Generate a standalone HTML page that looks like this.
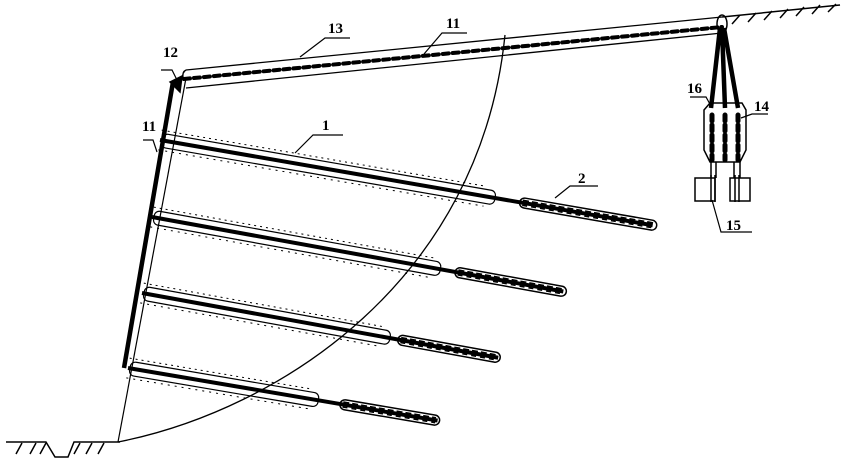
<!DOCTYPE html>
<html><head><meta charset="utf-8"><style>
html,body{margin:0;padding:0;background:#fff;}
svg{display:block;}
text{font-family:"Liberation Serif",serif;font-weight:bold;font-size:15px;fill:#000;}
</style></head><body>
<svg width="845" height="465" viewBox="0 0 845 465" xmlns="http://www.w3.org/2000/svg">
<g stroke="#000" fill="none" stroke-width="1.5">
<path d="M6,442 H46 L55,457 H68 L74,442 H120"/>
<path d="M16,454 L22,443 M30,454 L36,443 M40,454 L46,443 M74,454 L80,443 M86,454 L92,443 M98,454 L104,443"/>
<path d="M722,17 L840,5"/>
<path d="M732,24 L740,15 M748,22 L756,13 M764,20 L772,11 M780,18 L788,9 M796,16 L804,7 M812,14 L820,5 M828,12 L836,4"/>
<path d="M118,442 L186,78" stroke-width="1.2"/>
<path d="M118,442 C280,410 480,280 505,35" stroke-width="1.3"/>
<path d="M124,368 L173,82" stroke-width="4.5"/>
<path d="M186,70 L722,17" stroke-width="1.3"/>
<path d="M186,88 L722,33" stroke-width="1.3"/>
<path d="M186,70 Q182,72 183,78"/>
<path d="M184,79 L722,27" stroke-width="4" stroke-dasharray="6,4" stroke-linecap="round"/>
<path d="M170,82 L182,76 L180,92 Z" fill="#000"/>
</g>
<g stroke="#000" fill="none">
<g transform="translate(160,140) rotate(9.82)">
<line x1="0" y1="0" x2="500" y2="0" stroke-width="4"/>
<rect x="2" y="-7" width="338" height="14" rx="5" stroke-width="1.2"/>
<rect x="365" y="-5" width="139" height="10" rx="5" stroke-width="1.5"/>
<line x1="368" y1="-2.5" x2="500" y2="-2.5" stroke-width="1.5" stroke-dasharray="6,3"/>
<line x1="368" y1="2.5" x2="500" y2="2.5" stroke-width="1.5" stroke-dasharray="5,4"/>
<line x1="0" y1="-10" x2="330" y2="-10" stroke-width="1" stroke-dasharray="2,4"/>
<line x1="0" y1="10" x2="330" y2="10" stroke-width="1" stroke-dasharray="2,5"/>
</g>
<g transform="translate(152,217) rotate(10.27)">
<line x1="0" y1="0" x2="418" y2="0" stroke-width="4"/>
<rect x="2" y="-7" width="291" height="14" rx="5" stroke-width="1.2"/>
<rect x="308" y="-5" width="113" height="10" rx="5" stroke-width="1.5"/>
<line x1="311" y1="-2.5" x2="417" y2="-2.5" stroke-width="1.5" stroke-dasharray="6,3"/>
<line x1="311" y1="2.5" x2="417" y2="2.5" stroke-width="1.5" stroke-dasharray="5,4"/>
<line x1="0" y1="-10" x2="285" y2="-10" stroke-width="1" stroke-dasharray="2,4"/>
<line x1="0" y1="10" x2="285" y2="10" stroke-width="1" stroke-dasharray="2,5"/>
</g>
<g transform="translate(142,293) rotate(10.3)">
<line x1="0" y1="0" x2="362" y2="0" stroke-width="4"/>
<rect x="2" y="-7" width="250" height="14" rx="5" stroke-width="1.2"/>
<rect x="260" y="-5" width="104" height="10" rx="5" stroke-width="1.5"/>
<line x1="263" y1="-2.5" x2="360" y2="-2.5" stroke-width="1.5" stroke-dasharray="6,3"/>
<line x1="263" y1="2.5" x2="360" y2="2.5" stroke-width="1.5" stroke-dasharray="5,4"/>
<line x1="0" y1="-10" x2="245" y2="-10" stroke-width="1" stroke-dasharray="2,4"/>
<line x1="0" y1="10" x2="245" y2="10" stroke-width="1" stroke-dasharray="2,5"/>
</g>
<g transform="translate(128,368) rotate(9.64)">
<line x1="0" y1="0" x2="314" y2="0" stroke-width="4"/>
<rect x="2" y="-7" width="191" height="14" rx="5" stroke-width="1.2"/>
<rect x="215" y="-5" width="101" height="10" rx="5" stroke-width="1.5"/>
<line x1="218" y1="-2.5" x2="312" y2="-2.5" stroke-width="1.5" stroke-dasharray="6,3"/>
<line x1="218" y1="2.5" x2="312" y2="2.5" stroke-width="1.5" stroke-dasharray="5,4"/>
<line x1="0" y1="-10" x2="185" y2="-10" stroke-width="1" stroke-dasharray="2,4"/>
<line x1="0" y1="10" x2="185" y2="10" stroke-width="1" stroke-dasharray="2,5"/>
</g>
</g>
<g stroke="#000" fill="none" stroke-width="1.5">
<ellipse cx="722" cy="24" rx="5" ry="9"/>
<path d="M720,28 L711,108 M722,28 L725,108 M724,28 L738,108" stroke-width="4.5"/>
<path d="M704,110 L710,103 H742 L746,110 V150 L740,162 H710 L704,150 Z"/>
<path d="M712,115 V160 M725,115 V160 M738,115 V160" stroke-width="5" stroke-dasharray="6,4" stroke-linecap="round"/>
<path d="M711,162 V178 M716,162 V178 M734,162 V178 M740,162 V178"/>
<rect x="695" y="178" width="20" height="23"/>
<rect x="730" y="178" width="20" height="23"/>
<path d="M711,175 V202 M715,175 V202 M735,175 V202 M739,175 V202"/>
</g>
<g stroke="#000" fill="none" stroke-width="1.2">
<path d="M300,57 L325,38 H350"/>
<path d="M424,54 L442,33 H467"/>
<path d="M161,70 H172 L178,82"/>
<path d="M143,140 H153 L157,152"/>
<path d="M295,153 L313,135 H343"/>
<path d="M555,198 L570,186 H598"/>
<path d="M690,97 H706 L711,106"/>
<path d="M741,118 L752,114 H768"/>
<path d="M712,200 L721,232 H752"/>
</g>
<text x="328" y="33">13</text>
<text x="446" y="28">11</text>
<text x="163" y="57">12</text>
<text x="142" y="131">11</text>
<text x="322" y="130">1</text>
<text x="578" y="183">2</text>
<text x="687" y="93">16</text>
<text x="754" y="111">14</text>
<text x="726" y="230">15</text>
</svg>
</body></html>
